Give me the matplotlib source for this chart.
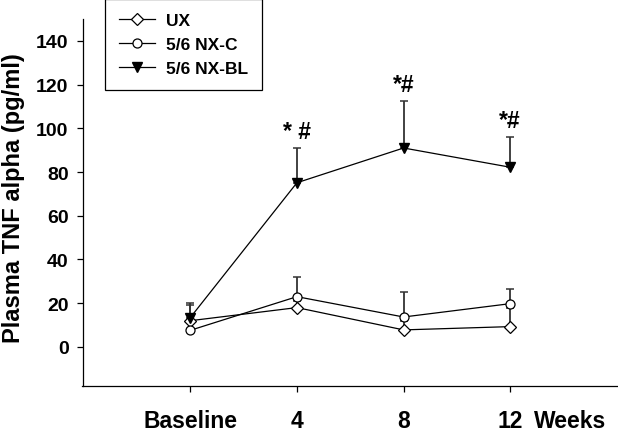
import matplotlib
matplotlib.use('Agg')
import matplotlib.pyplot as plt

# donnees
x_pos = [0, 1, 2, 3]
x_labels = ['Baseline', '4', '8', '12']

ux_mean = [12.0, 18.0, 7.8, 9.3]
ux_err = [7.0, 3.0, 4.2, 8.7]

nxc_mean = [7.6, 23.0, 13.7, 19.8]
nxc_err = [3.2, 9.1, 11.3, 6.9]

nxbl_mean = [13.4, 75.1, 91.0, 82.2]
nxbl_err = [6.9, 15.9, 21.3, 13.9]

sig_idx = [1, 2, 3]
sig_labels = ['* #', '*#', '*#']

plt.rcParams['font.family'] = ['Liberation Sans', 'DejaVu Sans']
plt.rcParams['font.weight'] = 'bold'

fig = plt.figure(figsize=(6.18, 4.35), dpi=100)
ax = fig.add_axes([82.5 / 618, 1 - 387.3 / 435, 1 - 82.5 / 618, (387.3 - 20) / 435])

err_kw = dict(fmt='none', ecolor='#333333', elinewidth=1.3, capsize=3, capthick=1.1)

# barres d'erreur (seulement vers le haut)
for mean, err in [(ux_mean, ux_err), (nxc_mean, nxc_err), (nxbl_mean, nxbl_err)]:
    ax.errorbar(x_pos, mean, yerr=[[0] * len(err), err], zorder=2, **err_kw)

ax.plot(x_pos, ux_mean, color='black', lw=0.9, marker='D', ms=6.5, mfc='white',
        mec='black', mew=0.9, label='UX', zorder=3)
ax.plot(x_pos, nxc_mean, color='black', lw=0.9, marker='o', ms=6.5, mfc='white',
        mec='black', mew=0.9, label='5/6 NX-C', zorder=4)
ax.plot(x_pos, nxbl_mean, color='black', lw=0.9, marker='v', ms=7, mfc='black',
        mec='black', label='5/6 NX-BL', zorder=5)

# marques de significativite
for i, lab in zip(sig_idx, sig_labels):
    ax.annotate(lab, (x_pos[i], nxbl_mean[i] + nxbl_err[i]), xytext=(0, 12),
                textcoords='offset points', ha='center', va='center',
                fontsize=16.5, fontweight='bold')

ax.set_xlim(-1.01, 4.01)
ax.set_ylim(-18, 150)
ax.set_yticks([0, 20, 40, 60, 80, 100, 120, 140])
ax.set_xticks(x_pos)
ax.set_xticklabels(x_labels)
ax.tick_params(axis='y', direction='out', length=4, width=0.9, labelsize=14, pad=6)
ax.tick_params(axis='x', direction='out', length=4, width=0.9, labelsize=16.5, pad=12.5)
for lab in ax.get_xticklabels() + ax.get_yticklabels():
    lab.set_fontweight('bold')

ax.annotate('Weeks', (3.22, 0), xycoords=ax.get_xaxis_transform(), xytext=(0, -16.5),
            textcoords='offset points', ha='left', va='top',
            fontsize=16.5, fontweight='bold')

ax.spines['top'].set_visible(False)
ax.spines['right'].set_visible(False)
ax.spines['left'].set_linewidth(0.9)
ax.spines['bottom'].set_linewidth(0.9)

ax.set_ylabel('Plasma TNF alpha (pg/ml)', fontsize=17, fontweight='bold')
ax.yaxis.set_label_coords(-0.108, 0.515)

leg = ax.legend(loc='upper left', bbox_to_anchor=(105 / 618, 1.0),
                bbox_transform=fig.transFigure, borderaxespad=0, fancybox=False,
                edgecolor='black', framealpha=1, handlelength=2.1,
                handletextpad=0.6, labelspacing=0.5, borderpad=0.8,
                prop={'weight': 'bold', 'size': 12.5})
leg.get_frame().set_linewidth(0.9)

fig.savefig('out.png', dpi=100)
